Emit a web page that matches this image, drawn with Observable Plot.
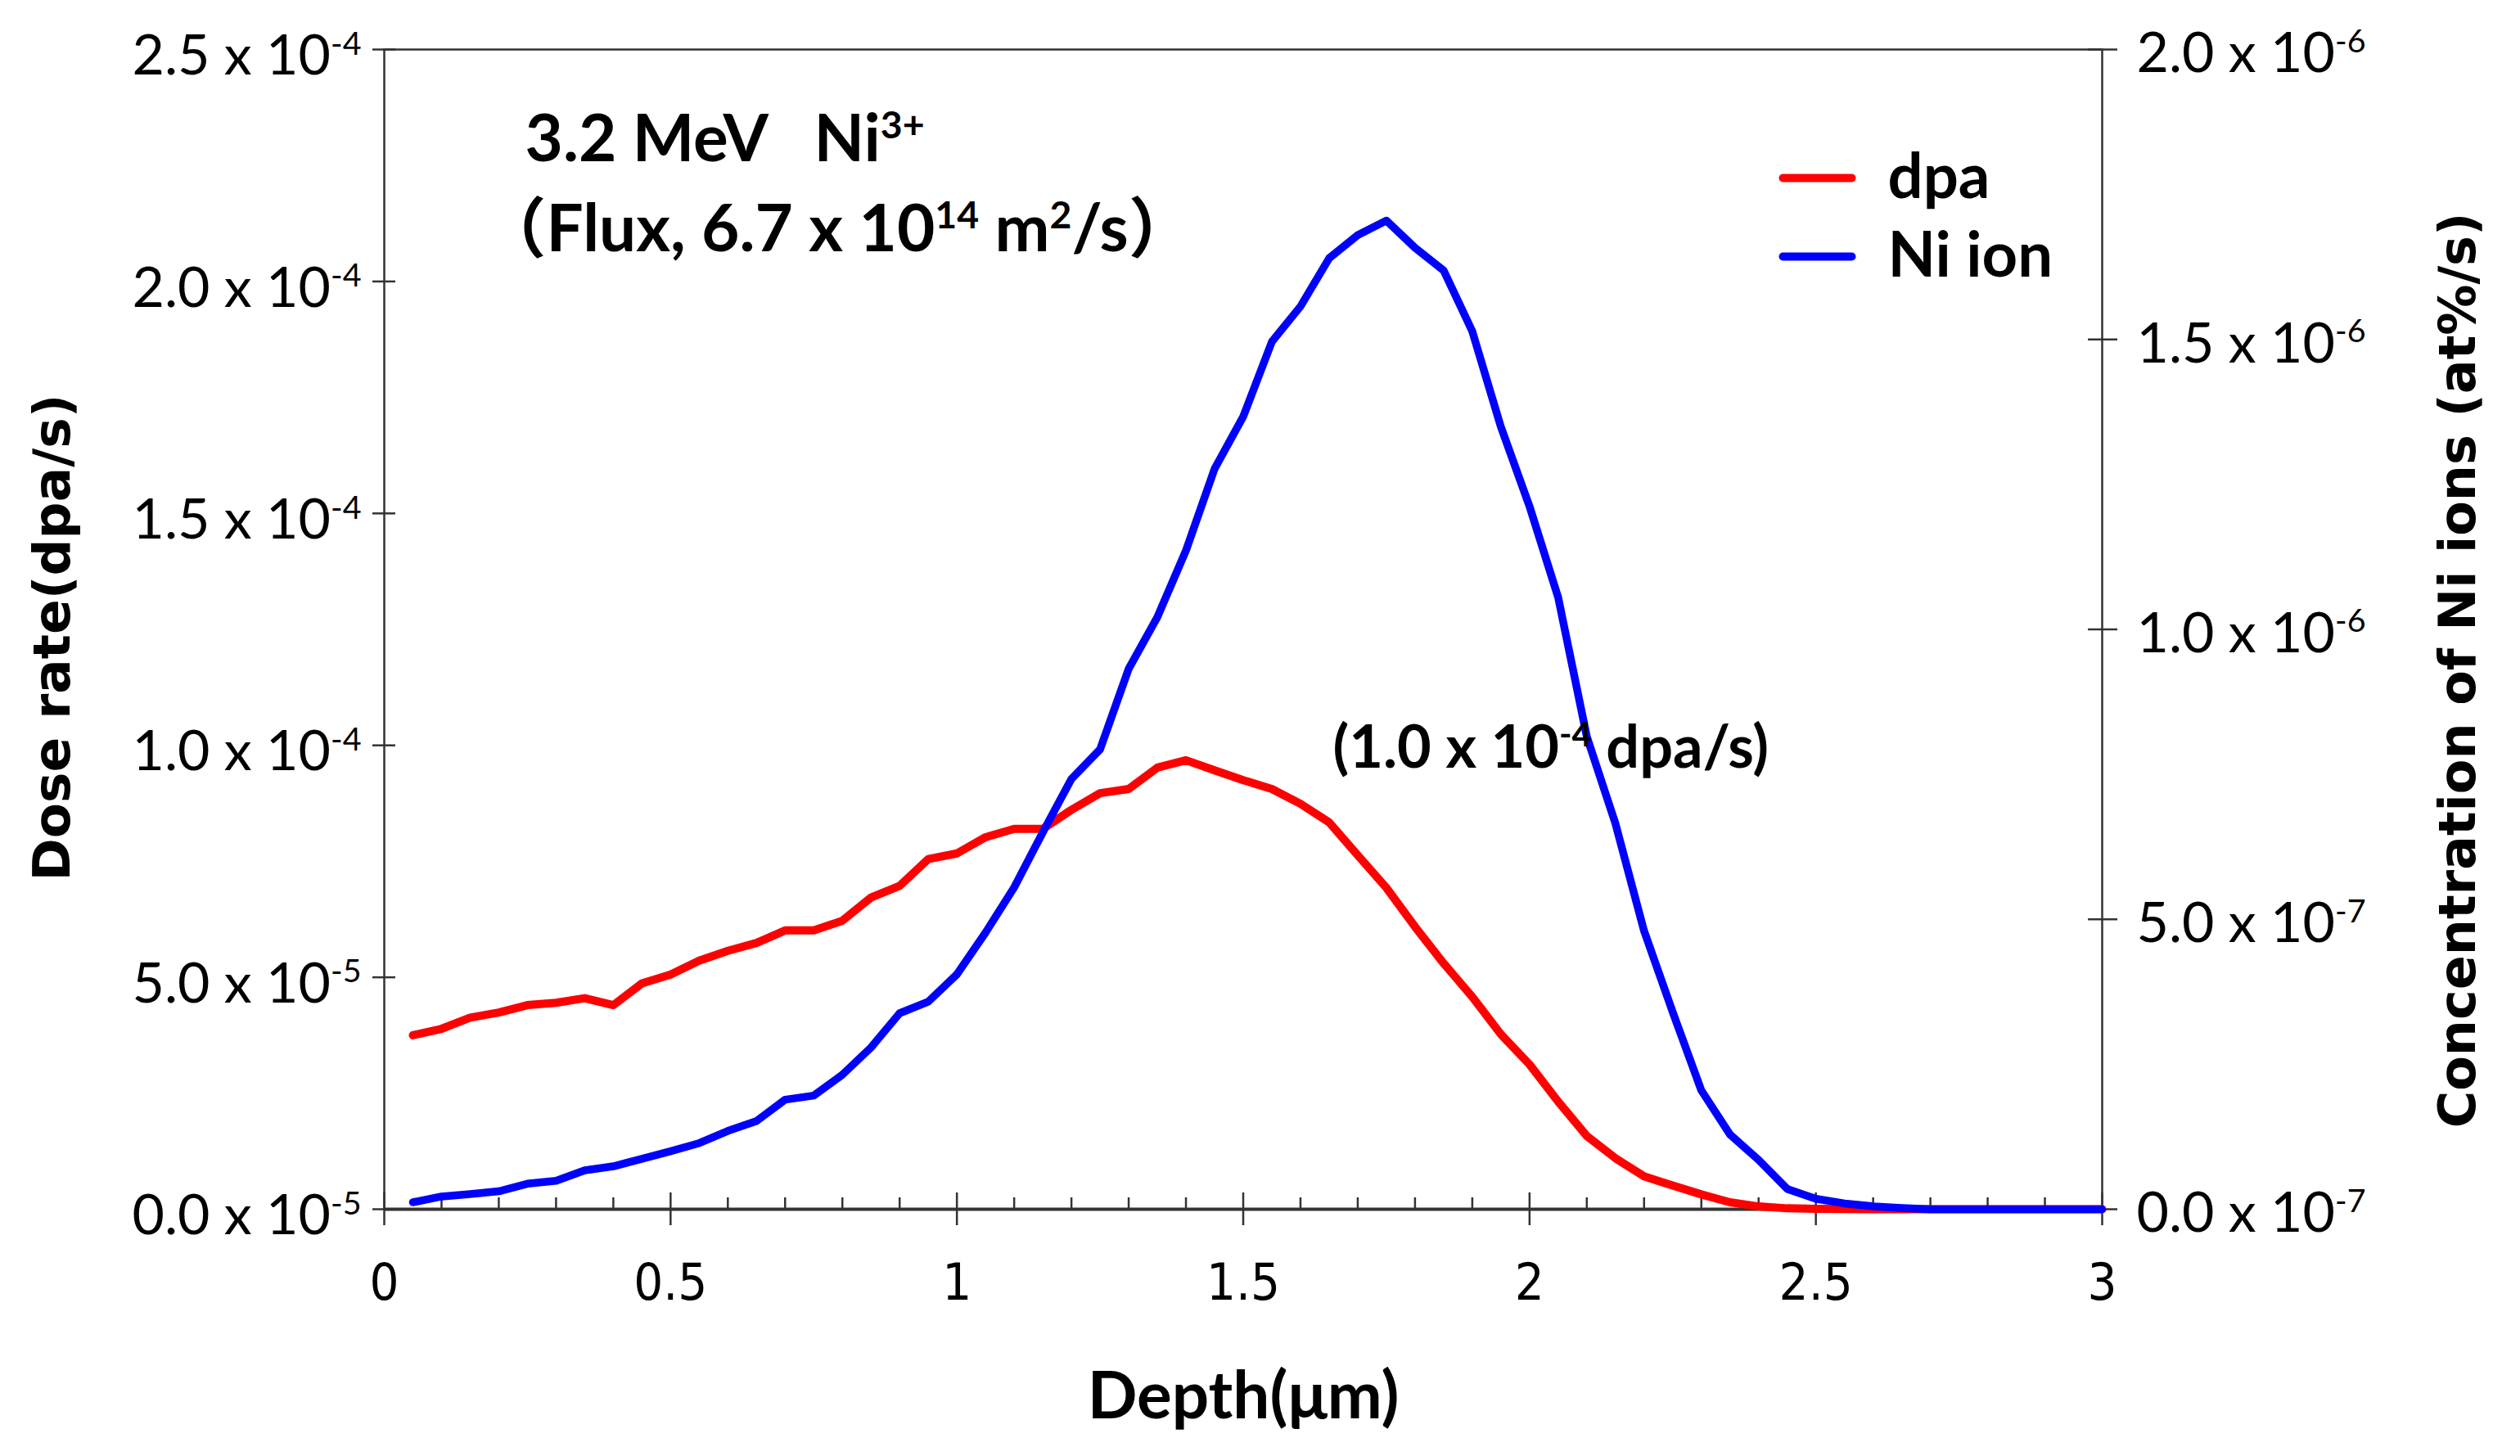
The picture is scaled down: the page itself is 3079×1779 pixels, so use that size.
<!DOCTYPE html>
<html>
<head>
<meta charset="utf-8">
<script src="https://cdn.jsdelivr.net/npm/d3@7"></script>
<script src="https://cdn.jsdelivr.net/npm/@observablehq/plot@0.6"></script>
<style>
  body { margin: 0; background: #fff; overflow: hidden; }
</style>
</head>
<body>
<div id="chart"></div>
<script>
// depth below the surface (µm)
const depth = [
  0.05, 0.1, 0.15, 0.2, 0.25, 0.3, 0.35, 0.4, 0.45, 0.5,
  0.55, 0.6, 0.65, 0.7, 0.75, 0.8, 0.85, 0.9, 0.95, 1.0,
  1.05, 1.1, 1.15, 1.2, 1.25, 1.3, 1.35, 1.4, 1.45, 1.5,
  1.55, 1.6, 1.65, 1.7, 1.75, 1.8, 1.85, 1.9, 1.95, 2.0,
  2.05, 2.1, 2.15, 2.2, 2.25, 2.3, 2.35, 2.4, 2.45, 2.5,
  2.55, 2.6, 2.65, 2.7, 2.75, 2.8, 2.85, 2.9, 2.95, 3.0
];
// dose rate, x 10^-5 dpa/s
const dpaRate = [
  3.75, 3.89, 4.13, 4.24, 4.40, 4.45, 4.55, 4.40, 4.87, 5.06,
  5.36, 5.57, 5.74, 6.01, 6.01, 6.22, 6.72, 6.97, 7.55, 7.67,
  8.02, 8.20, 8.20, 8.61, 8.97, 9.06, 9.52, 9.68, 9.46, 9.25,
  9.06, 8.74, 8.34, 7.63, 6.93, 6.09, 5.30, 4.58, 3.77, 3.12,
  2.32, 1.58, 1.10, 0.71, 0.51, 0.32, 0.15, 0.06, 0.02, 0.01,
  0.005, 0, 0, 0, 0, 0, 0, 0, 0, 0
];
// Ni ion concentration, x 10^-6 at%/s
const niConc = [
  0.012, 0.022, 0.026, 0.031, 0.044, 0.049, 0.067, 0.074, 0.087, 0.100,
  0.114, 0.135, 0.152, 0.189, 0.196, 0.232, 0.279, 0.338, 0.358, 0.405,
  0.477, 0.555, 0.650, 0.742, 0.793, 0.932, 1.021, 1.136, 1.277, 1.367,
  1.496, 1.557, 1.640, 1.680, 1.705, 1.658, 1.619, 1.514, 1.349, 1.212,
  1.055, 0.815, 0.665, 0.480, 0.340, 0.205, 0.129, 0.085, 0.035, 0.018,
  0.010, 0.005, 0.002, 0, 0, 0, 0, 0, 0, 0
];

const xTicks = [0, 0.5, 1, 1.5, 2, 2.5, 3];
const xMinorTicks = [0.1, 0.2, 0.3, 0.4, 0.6, 0.7, 0.8, 0.9, 1.1, 1.2, 1.3, 1.4,
  1.6, 1.7, 1.8, 1.9, 2.1, 2.2, 2.3, 2.4, 2.6, 2.7, 2.8, 2.9];
const leftTicks = [0, 5, 10, 15, 20, 25];
const leftTickLabels = ["0.0 x 10^{-5}", "5.0 x 10^{-5}", "1.0 x 10^{-4}",
  "1.5 x 10^{-4}", "2.0 x 10^{-4}", "2.5 x 10^{-4}"];
const rightTicks = [0, 0.5, 1.0, 1.5, 2.0];
const rightTickLabels = ["0.0 x 10^{-7}", "5.0 x 10^{-7}", "1.0 x 10^{-6}",
  "1.5 x 10^{-6}", "2.0 x 10^{-6}"];

const legendItems = [
  {name: "dpa", color: "#ff0000"},
  {name: "Ni ion", color: "#0000ff"}
];

// right axis (x10^-6) -> left axis (x10^-5)
const k = 25 / 2.0;
const rows = depth.map((d, i) => ({depth: d, dpa: dpaRate[i], ni: niConc[i]}));
const rightScaled = rightTicks.map(v => v * k);

const ink = "#333";
const fontTick = "Lato, 'Liberation Sans', sans-serif";
const fontNarrow = "'Liberation Sans Narrow', 'DejaVu Sans Condensed', sans-serif";
const fontBold = "Lato, 'Liberation Sans', 'Noto Sans CJK JP', sans-serif";
const fontWide = "'DejaVu Sans', Verdana, sans-serif";
const blank = () => "";
const dash = {draw(ctx) { ctx.moveTo(-42, 0); ctx.lineTo(42, 0); }};

const legendMarks = legendItems.flatMap((item, i) => [
  Plot.dot([item], {
    frameAnchor: "top-right", dx: -348, dy: 157 + i * 96,
    symbol: dash, r: 10, stroke: item.color, strokeWidth: 10, strokeLinecap: "round"
  }),
  Plot.text([item.name], {
    text: d => d, frameAnchor: "top-right", dx: -262, dy: 157 + i * 96,
    textAnchor: "start", lineAnchor: "middle",
    fontSize: 76, fontWeight: "bold", fontFamily: fontBold, fill: "black"
  })
]);

const chart = Plot.plot({
  width: 3079,
  height: 1779,
  marginLeft: 469,
  marginRight: 511,
  marginTop: 60,
  marginBottom: 302,
  style: {background: "white", fontFamily: fontTick, color: "black"},
  x: {domain: [0, 3]},
  y: {domain: [0, 25]},
  marks: [
    Plot.frame({stroke: ink, strokeWidth: 2.5}),
    Plot.ruleY([0], {stroke: ink, strokeWidth: 4}),

    // x axis: major ticks crossing the axis, minor ticks inside
    Plot.axisX({ticks: xTicks, tickSize: 20, tickPadding: 46, tickFormat: d => String(d),
      stroke: ink, strokeWidth: 2.5, fontSize: 63, fontFamily: fontNarrow, label: null}),
    Plot.axisX({ticks: xTicks, tickSize: 20, dy: -20, tickFormat: blank,
      stroke: ink, strokeWidth: 2.5, label: null}),
    Plot.axisX({ticks: xMinorTicks, tickSize: 14, dy: -14, tickFormat: blank,
      stroke: ink, strokeWidth: 2.5, label: null}),

    // left axis
    Plot.axisY({anchor: "left", ticks: leftTicks, tickSize: 14, tickFormat: blank,
      stroke: ink, strokeWidth: 2.5, label: null}),
    Plot.axisY({anchor: "left", ticks: leftTicks, tickSize: 14, dx: 14, tickFormat: blank,
      stroke: ink, strokeWidth: 2.5, label: null}),
    Plot.axisY({anchor: "left", ticks: leftTicks, tickSize: 0, tickPadding: 28, dy: 9,
      tickFormat: d => leftTickLabels[leftTicks.indexOf(d)], fontSize: 68, label: null}),

    // right axis
    Plot.axisY({anchor: "right", ticks: rightScaled, tickSize: 18, tickFormat: blank,
      stroke: ink, strokeWidth: 2.5, label: null}),
    Plot.axisY({anchor: "right", ticks: rightScaled, tickSize: 18, dx: -18, tickFormat: blank,
      stroke: ink, strokeWidth: 2.5, label: null}),
    Plot.axisY({anchor: "right", ticks: rightScaled, tickSize: 0, tickPadding: 42, dy: 6,
      tickFormat: d => rightTickLabels[rightScaled.indexOf(d)], fontSize: 68, label: null}),

    // series
    Plot.line(rows, {x: "depth", y: "dpa", stroke: "#ff0000", strokeWidth: 10,
      strokeLinejoin: "round", strokeLinecap: "round"}),
    Plot.line(rows, {x: "depth", y: d => d.ni * k, stroke: "#0000ff", strokeWidth: 9.5,
      strokeLinejoin: "round", strokeLinecap: "round"}),

    // axis titles
    Plot.text(["Dose rate(dpa/s)"], {text: d => d, frameAnchor: "left", dx: -405, dy: 10,
      rotate: -90, textAnchor: "middle", lineAnchor: "middle",
      fontFamily: fontWide, fontSize: 63, fontWeight: "bold", fill: "black"}),
    Plot.text(["Concentration of Ni ions (at%/s)"], {text: d => d, frameAnchor: "right", dx: 436, dy: 50,
      rotate: -90, textAnchor: "middle", lineAnchor: "middle",
      fontFamily: fontWide, fontSize: 62, fontWeight: "bold", fill: "black"}),
    Plot.text(["Depth(μm)"], {text: d => d, frameAnchor: "bottom", dy: 230,
      textAnchor: "middle", lineAnchor: "middle",
      fontFamily: fontBold, fontSize: 80, fontWeight: "bold", fill: "black"}),

    // annotations
    Plot.text(["3.2 MeV\u00a0\u00a0\u00a0Ni^{3+}"], {text: d => d, frameAnchor: "top-left", dx: 172, dy: 80,
      textAnchor: "start", lineAnchor: "top",
      fontFamily: fontBold, fontSize: 80, fontWeight: "bold", fill: "black"}),
    Plot.text(["（Flux, 6.7 x 10^{14} m^{2}/s）"], {text: d => d, frameAnchor: "top-left", dx: 118, dy: 190,
      textAnchor: "start", lineAnchor: "top",
      fontFamily: fontBold, fontSize: 80, fontWeight: "bold", fill: "black"}),
    Plot.text(["(1.0 x 10^{-4} dpa/s)"], {text: d => d, frameAnchor: "top-left", dx: 1159, dy: 826,
      textAnchor: "start", lineAnchor: "top",
      fontFamily: fontBold, fontSize: 72, fontWeight: "bold", fill: "black"}),

    ...legendMarks
  ]
});

document.getElementById("chart").appendChild(chart);

// turn "^{...}" into raised, smaller tspans
const ns = "http://www.w3.org/2000/svg";
chart.querySelectorAll("text").forEach(t => {
  const s = t.textContent;
  if (!s.includes("^{")) return;
  const fs = parseFloat(getComputedStyle(t).fontSize);
  const shift = fs * 0.36;
  t.textContent = "";
  let raised = false;
  for (const part of s.split(/(\^\{[^}]*\})/)) {
    if (!part) continue;
    const ts = document.createElementNS(ns, "tspan");
    if (part.startsWith("^{")) {
      ts.textContent = part.slice(2, -1);
      ts.setAttribute("font-size", fs * 0.58);
      ts.setAttribute("dy", -shift);
      raised = true;
    } else {
      ts.textContent = part;
      if (raised) { ts.setAttribute("dy", shift); raised = false; }
    }
    t.appendChild(ts);
  }
});
</script>
</body>
</html>
